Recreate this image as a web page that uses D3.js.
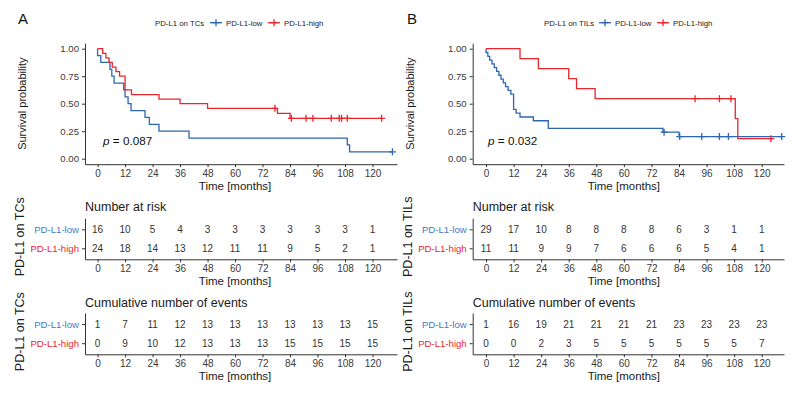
<!DOCTYPE html>
<html>
<head>
<meta charset="utf-8">
<script src="https://d3js.org/d3.v7.min.js"></script>
<style>
  body { margin: 0; background: #fff; }
  svg text { font-family: "Liberation Sans", Arial, sans-serif; }
  .axis path, .axis line { stroke: #333; }
  .axis text { fill: #3a3a3a; }
</style>
</head>
<body>
<svg id="chart" width="798" height="394"></svg>
<script>
// ---- data ----
const months = [0, 12, 24, 36, 48, 60, 72, 84, 96, 108, 120];
const yTicks = [0, 0.25, 0.5, 0.75, 1];
const groups = ["PD-L1-low", "PD-L1-high"];

// survival steps [time, survival after step]
const tcLowSteps = [[0,1],[0,0.9375],[1.4,0.875],[5.4,0.8125],[6.2,0.75],[7.2,0.6875],[11.4,0.625],[12,0.5625],
  [13.3,0.5],[14.6,0.4375],[20.7,0.375],[22.6,0.3125],[26.8,0.25],[39.9,0.1875],[109,0.125],[110,0.0625],[128.7,0.0625]];
const tcLowCens = [[128.7,0.0625]];
const tcHighSteps = [[0,1],[2.2,0.9583],[3.6,0.9167],[5,0.875],[6.4,0.8333],[8,0.7917],[9.6,0.75],[12,0.625],
  [14.8,0.5833],[26.8,0.5417],[36,0.5],[48,0.4583],[78.5,0.4125],[84,0.3667],[124,0.3667]];
const tcHighCens = [[77.4,0.4583],[84.6,0.3667],[91,0.3667],[94,0.3667],[102,0.3667],[105.5,0.3667],[106.5,0.3667],[109,0.3667],[124,0.3667]];

const tilLowSteps = [[0,1],[0,0.9655],[0.8,0.931],[1.6,0.8966],[2.6,0.8621],[3.6,0.8276],[4.6,0.7931],[5.6,0.7586],
  [6.5,0.7241],[7.5,0.6897],[8.5,0.6552],[9.6,0.6207],[10.8,0.5862],[12,0.4483],[13.1,0.4138],[14.8,0.3793],
  [20.6,0.3448],[27.1,0.2759],[77,0.2414],[84,0.2012],[128.7,0.2012]];
const tilLowCens = [[77.5,0.2414],[84.3,0.2012],[93.9,0.2012],[101.6,0.2012],[105.5,0.2012],[128.7,0.2012]];
const tilHighSteps = [[0,1],[14.8,0.9091],[22.8,0.8182],[36,0.7273],[39.4,0.6364],[47.5,0.5455],[108.5,0.3636],[109.6,0.1818],[124,0.1818]];
const tilHighCens = [[91,0.5455],[101.6,0.5455],[106.6,0.5455],[124,0.1818]];

const tcRiskLow = [16,10,5,4,3,3,3,3,3,3,1];
const tcRiskHigh = [24,18,14,13,12,11,11,9,5,2,1];
const tcEventsLow = [1,7,11,12,13,13,13,13,13,13,15];
const tcEventsHigh = [0,9,10,12,13,13,13,15,15,15,15];
const tilRiskLow = [29,17,10,8,8,8,8,6,3,1,1];
const tilRiskHigh = [11,11,9,9,7,6,6,6,5,4,1];
const tilEventsLow = [1,16,19,21,21,21,21,23,23,23,23];
const tilEventsHigh = [0,0,2,3,5,5,5,5,5,5,7];

const BLUE = "#2d66b0", RED = "#e8262c";

const svg = d3.select("svg#chart");

function drawPanel(p) {
  const x = d3.scaleLinear().domain(p.xDomain).range(p.xRange);
  const y = d3.scaleLinear().domain([-0.05, 1.05]).range([164.2, 43.2]);
  const left = p.xRange[0];
  const g = svg.append("g");

  // panel letter
  g.append("text").attr("x", p.letterX).attr("y", 24).attr("font-size", 15).attr("fill", "#111").text(p.letter);

  // legend
  const lg = g.append("g").attr("font-size", 7.8).attr("fill", "#222");
  lg.append("text").attr("x", p.legX).attr("y", 25.5).text(p.legTitle);
  [[BLUE, p.legX + p.legSym[0], "PD-L1-low"], [RED, p.legX + p.legSym[1], "PD-L1-high"]].forEach(([c, sx, t]) => {
    lg.append("line").attr("x1", sx).attr("x2", sx + 12).attr("y1", 22.7).attr("y2", 22.7).attr("stroke", c).attr("stroke-width", 1.3);
    lg.append("path").attr("d", `M${sx + 6 - 3.5},22.7h7M${sx + 6},${22.7 - 3.5}v7`).attr("stroke", c).attr("stroke-width", 1.3);
    lg.append("text").attr("x", sx + 16).attr("y", 25.5).text(t);
  });

  // axes
  const xAxis = d3.axisBottom(x).tickValues(months).tickSize(3).tickSizeOuter(0);
  g.append("g").attr("class", "axis").attr("transform", "translate(0,164.2)").call(xAxis)
    .call(s => s.selectAll("text").attr("font-size", 10));
  const yAxis = d3.axisLeft(y).tickValues(yTicks).tickFormat(d3.format(".2f")).tickSize(3).tickSizeOuter(0);
  g.append("g").attr("class", "axis").attr("transform", `translate(${left},0)`).call(yAxis)
    .call(s => s.selectAll("text").attr("font-size", 9.6));

  g.append("text").attr("x", x(60)).attr("y", 189.5).attr("text-anchor", "middle").attr("font-size", 11.5).attr("fill", "#1a1a1a").text("Time [months]");
  g.append("text").attr("transform", `translate(${left - 59},${y(0.5)}) rotate(-90)`).attr("text-anchor", "middle")
    .attr("font-size", 11).attr("fill", "#1a1a1a").text("Survival probability");

  // curves
  const line = d3.line().x(d => x(d[0])).y(d => y(d[1])).curve(d3.curveStepAfter);
  [[p.low, p.lowC, BLUE], [p.high, p.highC, RED]].forEach(([steps, cens, c]) => {
    g.append("path").datum(steps).attr("d", line).attr("fill", "none").attr("stroke", c).attr("stroke-width", 1.3);
    g.selectAll(null).data(cens).join("path")
      .attr("d", d => `M${x(d[0]) - 3.5},${y(d[1])}h7M${x(d[0])},${y(d[1]) - 3.5}v7`)
      .attr("stroke", c).attr("stroke-width", 1.3);
  });

  // p value
  const pt = g.append("text").attr("x", x(p.pX)).attr("y", 145).attr("font-size", 11.7).attr("fill", "#111");
  pt.append("tspan").attr("font-style", "italic").text("p");
  pt.append("tspan").text(" = " + p.pVal);

  // tables
  drawTable(g, x, left, p.legTitle, "Number at risk", 210.5, 218.3, 259.3, p.risk);
  drawTable(g, x, left, p.legTitle, "Cumulative number of events", 307, 313, 354.3, p.events);
}

function drawTable(g, x, left, groupTitle, title, titleY, top, bottom, rows) {
  const y = d3.scalePoint().domain(groups).range([top, bottom]).padding(0.58);
  g.append("text").attr("x", left).attr("y", titleY).attr("font-size", 12.5).attr("fill", "#1a1a1a").text(title);

  const xAxis = d3.axisBottom(x).tickValues(months).tickSize(3).tickSizeOuter(0);
  g.append("g").attr("class", "axis").attr("transform", `translate(0,${bottom})`).call(xAxis)
    .call(s => s.selectAll("text").attr("font-size", 10));
  const yAxis = d3.axisLeft(y).tickSize(3).tickSizeOuter(0);
  g.append("g").attr("class", "axis").attr("transform", `translate(${left},0)`).call(yAxis)
    .call(s => s.selectAll("text").attr("font-size", 9.6).style("fill", d => d === groups[0] ? "#3f7cc4" : RED));

  g.append("text").attr("x", x(60)).attr("y", bottom + 25.8).attr("text-anchor", "middle").attr("font-size", 11.5).attr("fill", "#1a1a1a").text("Time [months]");
  g.append("text").attr("transform", `translate(${left - 61},${(top + bottom) / 2 - 2}) rotate(-90)`).attr("text-anchor", "middle")
    .attr("font-size", 12.5).attr("fill", "#1a1a1a").text(groupTitle);

  groups.forEach((grp, i) => {
    g.selectAll(null).data(rows[i]).join("text")
      .attr("x", (d, j) => x(months[j])).attr("y", y(grp)).attr("dy", "0.35em")
      .attr("text-anchor", "middle").attr("font-size", 10).attr("fill", "#333").text(d => d);
  });
}

drawPanel({
  letter: "A", letterX: 18, legX: 155, legTitle: "PD-L1 on TCs", legSym: [55, 113],
  xDomain: [-5.5, 130.7], xRange: [85, 397],
  low: tcLowSteps, lowC: tcLowCens, high: tcHighSteps, highC: tcHighCens,
  pX: 2.4, pVal: "0.087",
  risk: [tcRiskLow, tcRiskHigh], events: [tcEventsLow, tcEventsHigh]
});
drawPanel({
  letter: "B", letterX: 407, legX: 544, legTitle: "PD-L1 on TILs", legSym: [55, 113],
  xDomain: [-5.8, 129.7], xRange: [472.7, 784],
  low: tilLowSteps, lowC: tilLowCens, high: tilHighSteps, highC: tilHighCens,
  pX: 0.9, pVal: "0.032",
  risk: [tilRiskLow, tilRiskHigh], events: [tilEventsLow, tilEventsHigh]
});
</script>
</body>
</html>
